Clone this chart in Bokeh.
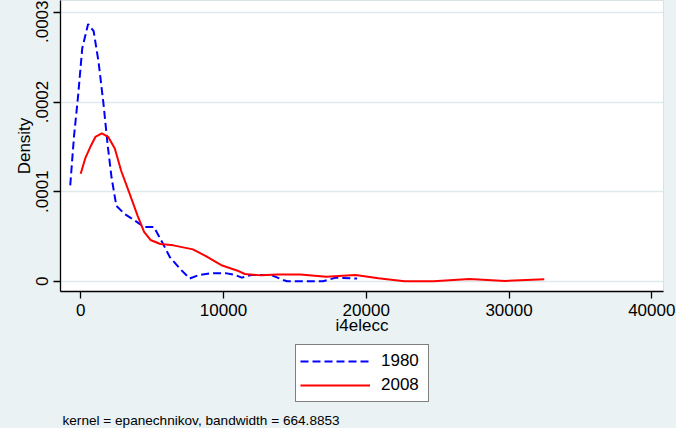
from bokeh.plotting import figure
from bokeh.layouts import column
from bokeh.models import (Range1d, FixedTicker, CustomJSTickFormatter, Legend,
                          LegendItem, Label, BasicTickFormatter)
from bokeh.embed import file_html
from bokeh.resources import INLINE

# ---- data ----
x1980 = [-730, -460, -185, 110, 520, 910, 1250, 1590, 1890, 2160, 2500, 3080,
         3760, 4440, 5130, 5690, 6260, 6950, 7630, 8310, 9230, 10140, 10820,
         11280, 11960, 13330, 14240, 14460, 16970, 17880, 19360]
d1980 = [1.07e-4, 1.63e-4, 2.06e-4, 2.60e-4, 2.87e-4, 2.79e-4, 2.45e-4, 1.99e-4,
         1.52e-4, 1.16e-4, 0.84e-4, 0.75e-4, 0.68e-4, 0.605e-4, 0.605e-4,
         0.44e-4, 0.265e-4, 0.14e-4, 0.03e-4, 0.07e-4, 0.09e-4, 0.09e-4,
         0.07e-4, 0.04e-4, 0.07e-4, 0.07e-4, 0.01e-4, 0.0, 0.0, 0.04e-4, 0.03e-4]

x2008 = [0, 340, 680, 1030, 1480, 1930, 2390, 2840, 3420, 3990, 4440, 4890,
         5580, 6490, 7860, 8770, 9910, 10940, 11500, 12650, 13780, 15380,
         17200, 19250, 20850, 22670, 24720, 27230, 29730, 32470]
d2008 = [1.20e-4, 1.38e-4, 1.50e-4, 1.61e-4, 1.65e-4, 1.61e-4, 1.48e-4, 1.23e-4,
         0.98e-4, 0.73e-4, 0.55e-4, 0.46e-4, 0.415e-4, 0.40e-4, 0.355e-4,
         0.28e-4, 0.175e-4, 0.12e-4, 0.08e-4, 0.065e-4, 0.075e-4, 0.075e-4,
         0.05e-4, 0.068e-4, 0.032e-4, 0.0, 0.0, 0.025e-4, 0.003e-4, 0.022e-4]

series_labels = ["1980", "2008"]
x_ticks = [0, 10000, 20000, 30000, 40000]
y_ticks = [0, 0.0001, 0.0002, 0.0003]
x_title = "i4elecc"
y_title = "Density"
note = "kernel = epanechnikov, bandwidth = 664.8853"

FONT = "Liberation Sans"
BG = "#EAF2F3"
BLUE = "#0000FF"
RED = "#FF0000"
W = 676
H_MAIN = 342
H_FOOT = 86
LEFT = 60
RIGHT = 13

p = figure(width=W, height=H_MAIN, output_backend="svg", toolbar_location=None,
           x_range=Range1d(-1413, 40819), y_range=Range1d(-0.0000115, 0.0003133),
           min_border_left=LEFT, min_border_right=RIGHT, min_border_top=0,
           min_border_bottom=H_MAIN - 291)
p.background_fill_color = "white"
p.border_fill_color = BG
p.outline_line_color = "#d8e2e5"
p.outline_line_width = 1

p.line(x1980, d1980, line_color=BLUE, line_width=2, line_dash="8 4")
p.line(x2008, d2008, line_color=RED, line_width=2)

# axes
p.xaxis.ticker = FixedTicker(ticks=x_ticks)
p.xaxis.formatter = BasicTickFormatter(use_scientific=False)
p.yaxis.ticker = FixedTicker(ticks=y_ticks)
p.yaxis.formatter = CustomJSTickFormatter(
    code="return tick == 0 ? '0' : tick.toFixed(4).replace(/^0/, '');")
p.yaxis.major_label_orientation = "vertical"

for ax in (p.xaxis, p.yaxis):
    ax.axis_line_color = "black"
    ax.axis_line_width = 1.3
    ax.major_tick_line_color = "black"
    ax.major_tick_line_width = 1.3
    ax.major_tick_out = 7
    ax.major_tick_in = 0
    ax.minor_tick_line_color = None
    ax.major_label_text_font = FONT
    ax.major_label_text_font_size = "17px"
    ax.major_label_text_color = "black"
    ax.axis_label_text_font = FONT
    ax.axis_label_text_font_size = "17px"
    ax.axis_label_text_font_style = "normal"
    ax.axis_label_text_color = "black"
    ax.major_label_standoff = 5

p.xaxis.axis_label = x_title
p.yaxis.axis_label = y_title
p.xaxis.axis_label_standoff = -3
p.yaxis.axis_label_standoff = 0

p.xgrid.grid_line_color = None
p.ygrid.ticker = FixedTicker(ticks=y_ticks)
p.ygrid.grid_line_color = "#dfe9eb"
p.ygrid.grid_line_width = 1.5

# ---- lower strip: legend + note (frame aligned with the plot above) ----
q = figure(width=W, height=H_FOOT, output_backend="svg", toolbar_location=None,
           x_range=Range1d(LEFT, W - RIGHT), y_range=Range1d(0, H_FOOT),
           min_border_left=LEFT, min_border_right=RIGHT, min_border_top=0,
           min_border_bottom=0, x_axis_location=None, y_axis_location=None)
q.background_fill_color = BG
q.border_fill_color = BG
q.outline_line_color = None
q.grid.visible = False

nan = float("nan")
k1 = q.line([nan], [nan], line_color=BLUE, line_width=2, line_dash="8 4")
k2 = q.line([nan], [nan], line_color=RED, line_width=2)

legend = Legend(items=[LegendItem(label=series_labels[0], renderers=[k1]),
                       LegendItem(label=series_labels[1], renderers=[k2])],
                location=(295 - LEFT, 26))
legend.border_line_color = "black"
legend.border_line_width = 1
legend.background_fill_color = "white"
legend.background_fill_alpha = 1
legend.padding = 4
legend.spacing = 0
legend.margin = 0
legend.label_height = 24
legend.glyph_height = 24
legend.glyph_width = 70
legend.label_width = 43
legend.label_standoff = 11
legend.label_text_font = FONT
legend.label_text_font_size = "17px"
legend.label_text_color = "black"
q.add_layout(legend, "center")

q.add_layout(Label(x=62, y=8, text=note, text_font=FONT, text_font_size="13.6px",
                   text_color="black", text_baseline="alphabetic",
                   text_align="left"))

layout = column(p, q, spacing=0, styles={"background-color": BG})
open("out.html", "w").write(file_html(layout, INLINE))
